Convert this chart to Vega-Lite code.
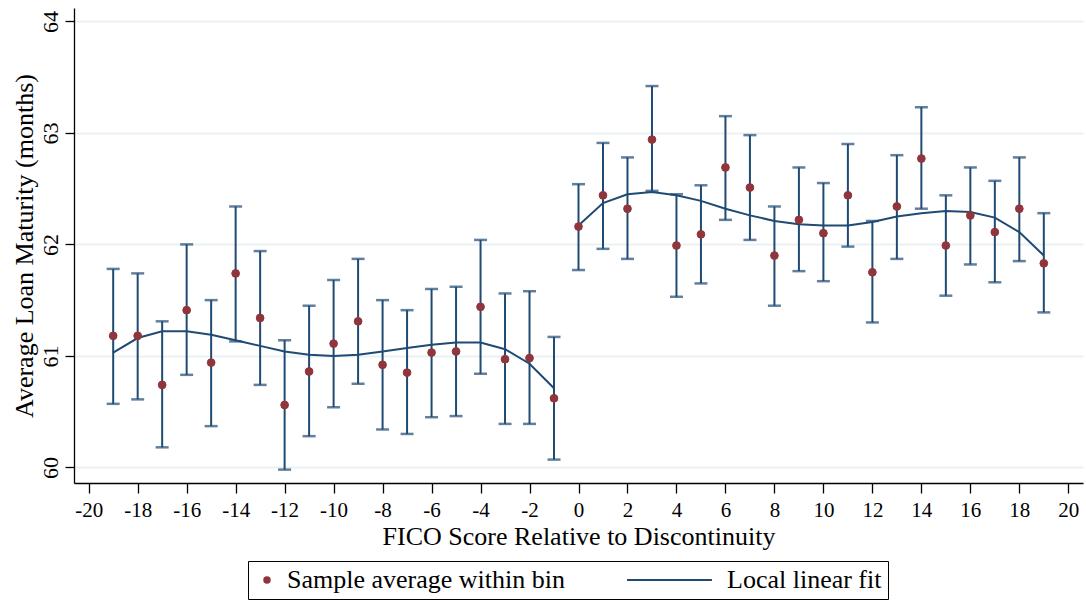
{
  "$schema": "https://vega.github.io/schema/vega-lite/v6.json",
  "autosize": {"type": "none"},
  "width": 1009,
  "height": 475,
  "padding": {"left": 74, "top": 8, "right": 3, "bottom": 127},
  "background": "white",
  "config": {
    "view": {"stroke": null},
    "font": "Liberation Serif",
    "axis": {
      "labelFont": "Liberation Serif",
      "titleFont": "Liberation Serif",
      "labelFontSize": 21,
      "titleFontSize": 26,
      "titleFontWeight": "normal",
      "labelColor": "black",
      "titleColor": "black",
      "domainColor": "black",
      "domainWidth": 1.3,
      "tickColor": "black",
      "tickWidth": 1.3
    },
    "legend": {
      "labelFont": "Liberation Serif",
      "labelFontSize": 26,
      "labelColor": "black"
    }
  },
  "datasets": {
    "bins": [
      {"x": -19, "mean": 61.18, "lo": 60.57, "hi": 61.78, "series": "Sample average within bin"},
      {"x": -18, "mean": 61.18, "lo": 60.61, "hi": 61.74, "series": "Sample average within bin"},
      {"x": -17, "mean": 60.74, "lo": 60.18, "hi": 61.31, "series": "Sample average within bin"},
      {"x": -16, "mean": 61.41, "lo": 60.83, "hi": 62.00, "series": "Sample average within bin"},
      {"x": -15, "mean": 60.94, "lo": 60.37, "hi": 61.50, "series": "Sample average within bin"},
      {"x": -14, "mean": 61.74, "lo": 61.13, "hi": 62.34, "series": "Sample average within bin"},
      {"x": -13, "mean": 61.34, "lo": 60.74, "hi": 61.94, "series": "Sample average within bin"},
      {"x": -12, "mean": 60.56, "lo": 59.98, "hi": 61.14, "series": "Sample average within bin"},
      {"x": -11, "mean": 60.86, "lo": 60.28, "hi": 61.45, "series": "Sample average within bin"},
      {"x": -10, "mean": 61.11, "lo": 60.54, "hi": 61.68, "series": "Sample average within bin"},
      {"x": -9, "mean": 61.31, "lo": 60.75, "hi": 61.87, "series": "Sample average within bin"},
      {"x": -8, "mean": 60.92, "lo": 60.34, "hi": 61.50, "series": "Sample average within bin"},
      {"x": -7, "mean": 60.85, "lo": 60.30, "hi": 61.41, "series": "Sample average within bin"},
      {"x": -6, "mean": 61.03, "lo": 60.45, "hi": 61.60, "series": "Sample average within bin"},
      {"x": -5, "mean": 61.04, "lo": 60.46, "hi": 61.62, "series": "Sample average within bin"},
      {"x": -4, "mean": 61.44, "lo": 60.84, "hi": 62.04, "series": "Sample average within bin"},
      {"x": -3, "mean": 60.97, "lo": 60.39, "hi": 61.56, "series": "Sample average within bin"},
      {"x": -2, "mean": 60.98, "lo": 60.39, "hi": 61.58, "series": "Sample average within bin"},
      {"x": -1, "mean": 60.62, "lo": 60.07, "hi": 61.17, "series": "Sample average within bin"},
      {"x": 0, "mean": 62.16, "lo": 61.77, "hi": 62.54, "series": "Sample average within bin"},
      {"x": 1, "mean": 62.44, "lo": 61.96, "hi": 62.91, "series": "Sample average within bin"},
      {"x": 2, "mean": 62.32, "lo": 61.87, "hi": 62.78, "series": "Sample average within bin"},
      {"x": 3, "mean": 62.94, "lo": 62.48, "hi": 63.42, "series": "Sample average within bin"},
      {"x": 4, "mean": 61.99, "lo": 61.53, "hi": 62.45, "series": "Sample average within bin"},
      {"x": 5, "mean": 62.09, "lo": 61.65, "hi": 62.53, "series": "Sample average within bin"},
      {"x": 6, "mean": 62.69, "lo": 62.22, "hi": 63.15, "series": "Sample average within bin"},
      {"x": 7, "mean": 62.51, "lo": 62.04, "hi": 62.98, "series": "Sample average within bin"},
      {"x": 8, "mean": 61.90, "lo": 61.45, "hi": 62.34, "series": "Sample average within bin"},
      {"x": 9, "mean": 62.22, "lo": 61.76, "hi": 62.69, "series": "Sample average within bin"},
      {"x": 10, "mean": 62.10, "lo": 61.67, "hi": 62.55, "series": "Sample average within bin"},
      {"x": 11, "mean": 62.44, "lo": 61.98, "hi": 62.90, "series": "Sample average within bin"},
      {"x": 12, "mean": 61.75, "lo": 61.30, "hi": 62.21, "series": "Sample average within bin"},
      {"x": 13, "mean": 62.34, "lo": 61.87, "hi": 62.80, "series": "Sample average within bin"},
      {"x": 14, "mean": 62.77, "lo": 62.32, "hi": 63.23, "series": "Sample average within bin"},
      {"x": 15, "mean": 61.99, "lo": 61.54, "hi": 62.44, "series": "Sample average within bin"},
      {"x": 16, "mean": 62.26, "lo": 61.82, "hi": 62.69, "series": "Sample average within bin"},
      {"x": 17, "mean": 62.11, "lo": 61.66, "hi": 62.57, "series": "Sample average within bin"},
      {"x": 18, "mean": 62.32, "lo": 61.85, "hi": 62.78, "series": "Sample average within bin"},
      {"x": 19, "mean": 61.83, "lo": 61.39, "hi": 62.28, "series": "Sample average within bin"}
    ],
    "fit": [
      {"x": -19, "fit": 61.03, "side": "left", "series": "Local linear fit"},
      {"x": -18, "fit": 61.16, "side": "left", "series": "Local linear fit"},
      {"x": -17, "fit": 61.22, "side": "left", "series": "Local linear fit"},
      {"x": -16, "fit": 61.22, "side": "left", "series": "Local linear fit"},
      {"x": -15, "fit": 61.19, "side": "left", "series": "Local linear fit"},
      {"x": -14, "fit": 61.14, "side": "left", "series": "Local linear fit"},
      {"x": -13, "fit": 61.09, "side": "left", "series": "Local linear fit"},
      {"x": -12, "fit": 61.04, "side": "left", "series": "Local linear fit"},
      {"x": -11, "fit": 61.01, "side": "left", "series": "Local linear fit"},
      {"x": -10, "fit": 61.00, "side": "left", "series": "Local linear fit"},
      {"x": -9, "fit": 61.01, "side": "left", "series": "Local linear fit"},
      {"x": -8, "fit": 61.04, "side": "left", "series": "Local linear fit"},
      {"x": -7, "fit": 61.07, "side": "left", "series": "Local linear fit"},
      {"x": -6, "fit": 61.10, "side": "left", "series": "Local linear fit"},
      {"x": -5, "fit": 61.12, "side": "left", "series": "Local linear fit"},
      {"x": -4, "fit": 61.12, "side": "left", "series": "Local linear fit"},
      {"x": -3, "fit": 61.06, "side": "left", "series": "Local linear fit"},
      {"x": -2, "fit": 60.93, "side": "left", "series": "Local linear fit"},
      {"x": -1, "fit": 60.71, "side": "left", "series": "Local linear fit"},
      {"x": 0, "fit": 62.17, "side": "right", "series": "Local linear fit"},
      {"x": 1, "fit": 62.37, "side": "right", "series": "Local linear fit"},
      {"x": 2, "fit": 62.45, "side": "right", "series": "Local linear fit"},
      {"x": 3, "fit": 62.47, "side": "right", "series": "Local linear fit"},
      {"x": 4, "fit": 62.44, "side": "right", "series": "Local linear fit"},
      {"x": 5, "fit": 62.39, "side": "right", "series": "Local linear fit"},
      {"x": 6, "fit": 62.32, "side": "right", "series": "Local linear fit"},
      {"x": 7, "fit": 62.26, "side": "right", "series": "Local linear fit"},
      {"x": 8, "fit": 62.21, "side": "right", "series": "Local linear fit"},
      {"x": 9, "fit": 62.18, "side": "right", "series": "Local linear fit"},
      {"x": 10, "fit": 62.17, "side": "right", "series": "Local linear fit"},
      {"x": 11, "fit": 62.17, "side": "right", "series": "Local linear fit"},
      {"x": 12, "fit": 62.20, "side": "right", "series": "Local linear fit"},
      {"x": 13, "fit": 62.25, "side": "right", "series": "Local linear fit"},
      {"x": 14, "fit": 62.28, "side": "right", "series": "Local linear fit"},
      {"x": 15, "fit": 62.30, "side": "right", "series": "Local linear fit"},
      {"x": 16, "fit": 62.29, "side": "right", "series": "Local linear fit"},
      {"x": 17, "fit": 62.24, "side": "right", "series": "Local linear fit"},
      {"x": 18, "fit": 62.11, "side": "right", "series": "Local linear fit"},
      {"x": 19, "fit": 61.90, "side": "right", "series": "Local linear fit"}
    ]
  },
  "layer": [
    {
      "data": {"name": "bins"},
      "mark": {"type": "rule", "color": "#1f4a73", "strokeWidth": 2},
      "encoding": {
        "x": {"field": "x", "type": "quantitative",
          "scale": {"domain": [-20.6, 20.6], "nice": false, "zero": false},
          "axis": {"values": [-20,-18,-16,-14,-12,-10,-8,-6,-4,-2,0,2,4,6,8,10,12,14,16,18,20],
            "labelExpr": "'' + datum.value", "grid": false, "title": "FICO Score Relative to Discontinuity",
            "tickSize": 10, "labelPadding": 6, "titlePadding": 3}},
        "y": {"field": "lo", "type": "quantitative",
          "scale": {"domain": [59.86, 64.12], "nice": false, "zero": false},
          "axis": {"values": [60, 61, 62, 63, 64], "format": "d", "grid": true, "gridColor": "#e9f1f3", "gridWidth": 2,
            "tickSize": 9, "labelFontSize": 22,
            "labelAngle": -90, "labelAlign": "center", "labelBaseline": "bottom", "labelPadding": 3,
            "title": "Average Loan Maturity (months)", "titlePadding": 2}},
        "y2": {"field": "hi"}
      }
    },
    {
      "data": {"name": "bins"},
      "mark": {"type": "tick", "orient": "horizontal", "color": "#1f4a73", "size": 13, "thickness": 2.5},
      "encoding": {
        "x": {"field": "x", "type": "quantitative"},
        "y": {"field": "lo", "type": "quantitative"}
      }
    },
    {
      "data": {"name": "bins"},
      "mark": {"type": "tick", "orient": "horizontal", "color": "#1f4a73", "size": 13, "thickness": 2.5},
      "encoding": {
        "x": {"field": "x", "type": "quantitative"},
        "y": {"field": "hi", "type": "quantitative"}
      }
    },
    {
      "data": {"name": "fit"},
      "mark": {"type": "line", "strokeWidth": 2},
      "encoding": {
        "x": {"field": "x", "type": "quantitative"},
        "y": {"field": "fit", "type": "quantitative"},
        "detail": {"field": "side"},
        "stroke": {"field": "series", "type": "nominal",
          "scale": {"domain": ["Sample average within bin", "Local linear fit"], "range": ["#90353b", "#1f4a73"]}}
      }
    },
    {
      "data": {"name": "bins"},
      "mark": {"type": "point", "filled": true, "opacity": 1, "strokeWidth": 1, "size": 60},
      "encoding": {
        "x": {"field": "x", "type": "quantitative"},
        "y": {"field": "mean", "type": "quantitative"},
        "fill": {"field": "series", "type": "nominal",
          "scale": {"domain": ["Sample average within bin", "Local linear fit"], "range": ["#90353b", "#1f4a73"]},
          "legend": {"title": null, "orient": "none", "legendX": 174, "legendY": 553, "direction": "horizontal",
            "strokeColor": "black", "padding": 6, "columnPadding": 58, "labelLimit": 0,
            "symbolSize": 30, "symbolStrokeWidth": 2, "labelOffset": 7, "labelFontSize": 26}},
        "stroke": {"field": "series", "type": "nominal"},
        "shape": {"field": "series", "type": "nominal",
          "scale": {"domain": ["Sample average within bin", "Local linear fit"], "range": ["circle", "M -29.2 0 H 1.8"]}}
      }
    },
    {
      "mark": {"type": "rule", "color": "black", "strokeWidth": 1.5},
      "encoding": {"x": {"datum": 0}}
    }
  ]
}
